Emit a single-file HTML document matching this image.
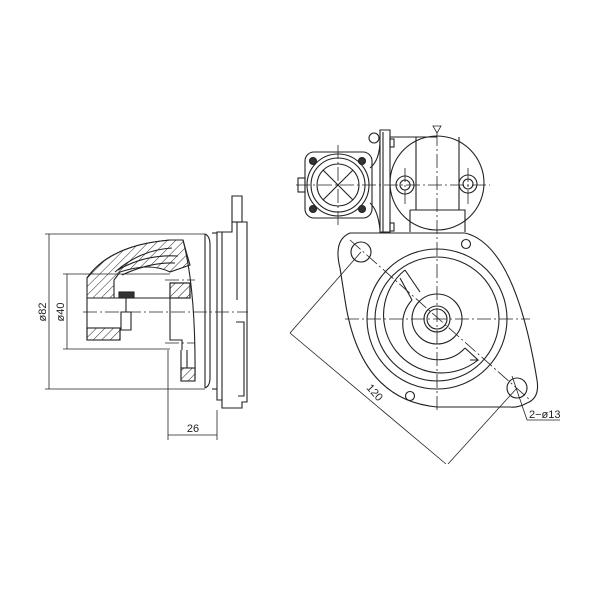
<!DOCTYPE html>
<html><head><meta charset="utf-8"><style>html,body{margin:0;padding:0;background:#fff}svg{display:block}</style></head>
<body>
<svg width="600" height="600" viewBox="0 0 600 600" xmlns="http://www.w3.org/2000/svg" font-family="Liberation Sans, sans-serif">
<defs>
<pattern id="h" width="6" height="6" patternUnits="userSpaceOnUse" patternTransform="rotate(45)"><line x1="0" y1="0" x2="0" y2="6" stroke="#222" stroke-width="1"/></pattern>
</defs>
<g fill="none" stroke="#222" stroke-width="1.1">
<!-- LEFT VIEW -->
<!-- flange plate -->
<path d="M232 196 H242 V222 H247 V402 H242 V408 H222 V400 H217 V232 H232 Z"/>
<path d="M222 232 V400 M237 222 V300 M236 322 H244 V396 H238"/>
<line x1="232" y1="222" x2="242" y2="222"/>
<!-- lip -->
<path d="M205 234 Q210 236 210 245 V378 Q210 386 205 388"/>
<line x1="205" y1="234" x2="205" y2="388"/>
<line x1="212" y1="233" x2="217" y2="233"/><line x1="212" y1="389" x2="217" y2="389"/>
<!-- body curved outline -->
<path d="M87 278 Q110 245 170 240 L183 240 Q196 290 195 380" />
<!-- hatched upper arc -->
<path d="M87 278 Q110 245 170 240 L183 240 Q187 255 190 265 L170 272 Q150 262 120 272 L114 280 L114 298 L87 298 Z" fill="url(#h)"/>
<path d="M115 272 Q140 250 172 248 M118 270 Q145 254 178 256 M122 275 Q150 262 175 263"/>
<!-- lower left hatched block -->
<rect x="87" y="328" width="33" height="12" fill="url(#h)"/>
<path d="M87 298 V340 H120 V328"/>
<rect x="119" y="292" width="15" height="6" fill="#333"/>
<path d="M126 298 V312 M121 312 H131 V330 H121 Z"/>
<path d="M87 298 H170"/>
<!-- right blocks -->
<rect x="170" y="283" width="20" height="15" fill="url(#h)"/>
<rect x="170" y="283" width="20" height="15"/>
<path d="M170 298 V340 H182 V350"/>
<rect x="181" y="368" width="14" height="13" fill="url(#h)"/>
<path d="M181 350 V381 H195 M187 350 V368"/>
<!-- centerlines -->
<g stroke-dasharray="14 3 2 3" stroke-width="0.8">
<line x1="83" y1="312" x2="248" y2="312"/>
<line x1="165" y1="280" x2="195" y2="280"/>
<line x1="165" y1="343" x2="195" y2="343"/>
</g>
<!-- dimensions -->
<g stroke-width="0.8">
<line x1="45" y1="234" x2="205" y2="234"/>
<line x1="45" y1="389" x2="205" y2="389"/>
<line x1="49" y1="234" x2="49" y2="389"/>
<line x1="63" y1="274" x2="170" y2="274"/>
<line x1="63" y1="349" x2="170" y2="349"/>
<line x1="67" y1="274" x2="67" y2="349"/>
<line x1="168" y1="350" x2="168" y2="440"/>
<line x1="217" y1="410" x2="217" y2="440"/>
<line x1="168" y1="435" x2="217" y2="435"/>
</g>
</g>
<g fill="#222" font-size="11">
<text transform="translate(46,312) rotate(-90)" text-anchor="middle">ø82</text>
<text transform="translate(64,312) rotate(-90)" text-anchor="middle">ø40</text>
<text x="193" y="432" text-anchor="middle">26</text>
</g>

<!-- RIGHT VIEW -->
<g fill="none" stroke="#222" stroke-width="1.1">
<!-- upper motor circle -->
<circle cx="437" cy="183" r="47"/>
<path d="M416 137 V210 M459 137 V210"/>
<path d="M410 210 H465 V232 M410 210 V232"/>
<circle cx="405" cy="185" r="9"/><circle cx="405" cy="185" r="5"/>
<circle cx="468" cy="184" r="9"/><circle cx="468" cy="184" r="5"/>
<!-- bracket -->
<path d="M380 130 H390 V232 H380 Z"/>
<path d="M383 132 V232"/>
<circle cx="374" cy="138" r="5"/>
<rect x="390" y="139" width="4" height="8"/>
<rect x="390" y="223" width="4" height="8"/>
<line x1="390" y1="137" x2="437" y2="137"/>
<path d="M380 140 Q380 160 370 168 M380 230 Q378 210 370 203"/>
<!-- solenoid -->
<rect x="305" y="152" width="67" height="66" rx="9"/>
<circle cx="338" cy="185" r="31"/>
<circle cx="338" cy="185" r="27"/>
<circle cx="338" cy="185" r="21"/>
<path d="M323 170 L353 200 M353 170 L323 200"/>
<circle cx="313" cy="161" r="3.5" fill="#333"/><circle cx="362" cy="161" r="3.5" fill="#333"/>
<circle cx="313" cy="209" r="3.5" fill="#333"/><circle cx="362" cy="209" r="3.5" fill="#333"/>
<rect x="298" y="178" width="7" height="14"/>
<!-- flange -->
<path d="M350 233 H465 Q515 245 537 380 Q540 398 527 403 Q518 408 510 407 L437 407 Q360 400 345 300 L340 268 Q333 240 350 233 Z"/>
<circle cx="361" cy="252" r="10"/>
<circle cx="517" cy="388" r="10"/>
<circle cx="466" cy="244" r="4.5"/>
<circle cx="410" cy="396" r="4.5"/>
<!-- main circles -->
<circle cx="437" cy="319" r="70"/>
<circle cx="437" cy="319" r="62"/>
<path d="M405 270 A57 57 0 1 0 478 360"/>
<path d="M400 278 L412 300 M405 270 L420 292"/>
<path d="M470 360 L478 360 L465 348"/>
<path d="M412 300 A32 32 0 1 0 465 348"/>
<circle cx="437" cy="319" r="25"/>
<circle cx="437" cy="319" r="13"/>
<circle cx="437" cy="319" r="10"/>
</g>
<!-- centerlines right -->
<g fill="none" stroke="#222" stroke-width="0.8" stroke-dasharray="14 3 2 3">
<line x1="437" y1="132" x2="437" y2="410"/>
<line x1="345" y1="319" x2="530" y2="319"/>
<line x1="296" y1="185" x2="490" y2="185"/>
<line x1="338" y1="145" x2="338" y2="225"/>
<line x1="405" y1="168" x2="405" y2="205"/>
<line x1="468" y1="168" x2="468" y2="205"/>
<line x1="350" y1="240" x2="530" y2="400"/>
</g>
<!-- dimensions right -->
<g fill="none" stroke="#222" stroke-width="0.8">
<line x1="361" y1="252" x2="290" y2="333"/>
<line x1="517" y1="388" x2="448" y2="464"/>
<line x1="290" y1="333" x2="446" y2="464"/>
<polyline points="512,376 527,420 560,420"/>
<path d="M433 126 L437 133 L441 126 Z"/>
</g>
<g fill="#222" font-size="11">
<text transform="translate(372,395) rotate(48)" text-anchor="middle">120</text>
<text x="529" y="418">2−ø13</text>
</g>
</svg>
</body></html>
